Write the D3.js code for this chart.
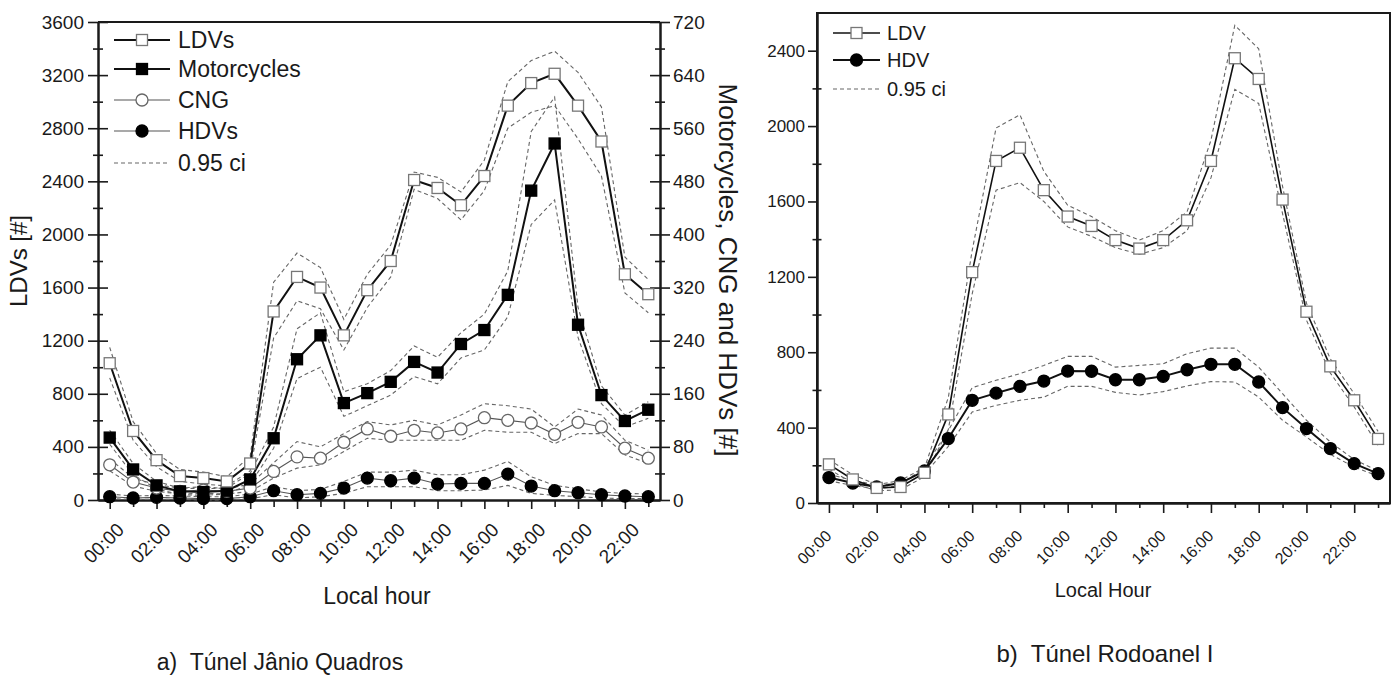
<!DOCTYPE html>
<html>
<head>
<meta charset="utf-8">
<script src="https://cdn.jsdelivr.net/npm/d3@7"></script>
<style>
  html, body { margin: 0; padding: 0; background: #fff; }
  svg { display: block; font-family: "Liberation Sans", Arial, sans-serif; }
</style>
</head>
<body>
<div id="chart"></div>
<script>
// Hourly vehicle counts in two São Paulo tunnels, with 0.95 confidence bands.

const hours = d3.range(24);
const hourLabels = ["00:00", "02:00", "04:00", "06:00", "08:00", "10:00",
                    "12:00", "14:00", "16:00", "18:00", "20:00", "22:00"];

// a) Túnel Jânio Quadros — LDVs on the left axis
const ticksA = [0, 400, 800, 1200, 1600, 2000, 2400, 2800, 3200, 3600];
const ldvA   = [1030, 520, 300, 180, 165, 140, 275, 1420, 1680, 1600, 1240, 1580, 1800, 2410, 2350, 2220, 2440, 2970, 3140, 3210, 2970, 2700, 1700, 1550];
const ldvAUp = [1150, 590, 350, 230, 210, 175, 330, 1640, 1860, 1750, 1360, 1700, 1920, 2470, 2430, 2320, 2560, 3150, 3310, 3380, 3220, 2960, 1830, 1660];
const ldvALo = [920, 450, 250, 140, 120, 105, 220, 1220, 1500, 1440, 1130, 1450, 1680, 2340, 2270, 2110, 2330, 2800, 2920, 2970, 2720, 2440, 1560, 1410];

// motorcycles, CNG and HDVs on the right axis
const ticksA2 = [0, 80, 160, 240, 320, 400, 480, 560, 640, 720];
const motoA   = [94, 46, 22, 13, 12, 14, 31, 93, 212, 248, 146, 161, 178, 208, 192, 235, 256, 309, 466, 537, 264, 158, 119, 136];
const motoAUp = [105, 55, 28, 18, 17, 18, 40, 110, 258, 282, 163, 175, 195, 232, 215, 252, 280, 345, 555, 607, 290, 172, 128, 148];
const motoALo = [84, 38, 17, 8, 7, 9, 24, 78, 183, 200, 126, 142, 158, 186, 175, 214, 226, 276, 415, 452, 245, 145, 110, 123];
const cngA    = [53, 27, 18, 13, 15, 13, 18, 43, 65, 63, 87, 107, 96, 105, 101, 107, 124, 120, 116, 99, 117, 110, 78, 63];
const cngAUp  = [62, 33, 23, 18, 20, 17, 24, 56, 88, 80, 100, 118, 113, 120, 113, 128, 145, 142, 137, 110, 137, 128, 90, 75];
const cngALo  = [44, 21, 13, 9, 10, 9, 13, 33, 48, 53, 73, 93, 90, 90, 90, 90, 105, 102, 102, 85, 100, 100, 68, 55];
const hdvA    = [5, 3, 4, 3, 2, 2, 5, 14, 8, 10, 18, 33, 29, 33, 24, 25, 25, 39, 21, 14, 11, 8, 6, 5];
const hdvAUp  = [9, 6, 7, 6, 5, 5, 9, 20, 14, 16, 28, 42, 42, 45, 38, 38, 45, 58, 35, 22, 17, 12, 10, 9];
const hdvALo  = [2, 1, 1, 1, 0, 0, 2, 8, 3, 5, 10, 20, 20, 20, 14, 14, 15, 22, 10, 7, 5, 3, 2, 2];

// b) Túnel Rodoanel I
const ticksB = [0, 400, 800, 1200, 1600, 2000, 2400];
const ldvB   = [205, 125, 80, 85, 160, 470, 1225, 1815, 1885, 1660, 1520, 1470, 1395, 1350, 1395, 1500, 1815, 2360, 2250, 1610, 1015, 725, 545, 340];
const ldvBUp = [230, 150, 98, 102, 185, 560, 1340, 1990, 2060, 1760, 1580, 1520, 1445, 1395, 1445, 1545, 1925, 2535, 2410, 1680, 1060, 765, 580, 380];
const ldvBLo = [180, 105, 65, 70, 140, 390, 1110, 1660, 1700, 1600, 1465, 1415, 1355, 1320, 1355, 1445, 1725, 2195, 2120, 1535, 970, 690, 510, 305];
const hdvB   = [135, 106, 85, 106, 170, 342, 545, 583, 619, 647, 700, 699, 654, 654, 672, 707, 736, 736, 642, 506, 395, 289, 209, 156];
const hdvBUp = [152, 120, 97, 120, 188, 385, 612, 651, 686, 730, 778, 778, 721, 730, 739, 792, 822, 822, 721, 580, 439, 324, 230, 170];
const hdvBLo = [118, 93, 74, 93, 152, 300, 483, 518, 545, 562, 619, 619, 587, 573, 591, 621, 644, 642, 562, 439, 350, 258, 191, 143];

const W = 1397, H = 677;
const ink = "#1a1a1a";
const svg = d3.select("#chart").append("svg").attr("width", W).attr("height", H);

const midTicks = t => t.slice(0, -1).map((v, i) => (v + t[i + 1]) / 2);

// y axis: major ticks (optionally crossing the spine) plus minor ticks half-way
function yAxis(scale, ticks, x, side, o) {
  const mk = side === "left" ? d3.axisLeft : d3.axisRight;
  const dir = side === "left" ? 1 : -1;
  const g = svg.append("g").attr("transform", `translate(${x},0)`);
  g.append("g").call(mk(scale).tickValues(midTicks(ticks)).tickFormat("").tickSize(o.minor).tickSizeOuter(0))
    .call(a => a.selectAll(".tick line").attr("x1", dir * o.minor));
  const major = g.append("g")
    .call(mk(scale).tickValues(ticks).tickFormat(d3.format("d")).tickSize(o.major).tickSizeOuter(0).tickPadding(o.pad));
  if (o.cross) major.selectAll(".tick line").attr("x1", dir * o.cross);
  major.selectAll(".tick text").attr("font-size", o.font).attr("fill", ink).attr("font-family", null);
  g.selectAll(".domain").attr("stroke", ink).attr("stroke-width", 2);
  g.selectAll(".tick line").attr("stroke", ink).attr("stroke-width", 1.6);
  return g;
}

function xAxis(scale, y, o) {
  const g = svg.append("g").attr("transform", `translate(0,${y})`);
  g.append("g").call(d3.axisBottom(scale).tickValues(hours.filter(h => h % 2)).tickFormat("").tickSize(o.minor).tickSizeOuter(0));
  g.append("g").call(d3.axisBottom(scale).tickValues(hours.filter(h => h % 2 === 0))
      .tickFormat(h => hourLabels[h / 2]).tickSize(o.major).tickSizeOuter(0))
    .selectAll(".tick text")
      .attr("font-size", o.font).attr("fill", ink).attr("font-family", null)
      .attr("text-anchor", "end").attr("x", null).attr("y", null).attr("dy", null)
      .attr("transform", `translate(${o.dx},${o.dy}) rotate(-45)`);
  g.selectAll(".domain").attr("stroke", ink).attr("stroke-width", 2);
  g.selectAll(".tick line").attr("stroke", ink).attr("stroke-width", 1.6);
}

function band(x, y, vals) {
  svg.append("path").datum(vals)
    .attr("d", d3.line().x((d, i) => x(hours[i])).y(d => y(d)))
    .attr("fill", "none").attr("stroke", "#666").attr("stroke-width", 1.1)
    .attr("stroke-dasharray", "4 3");
}

function marker(g, shape, cx, cy, size, filled, stroke) {
  if (shape === "square") {
    g.append("rect").attr("x", cx - size / 2).attr("y", cy - size / 2)
      .attr("width", size).attr("height", size)
      .attr("fill", filled ? "#000" : "#fff").attr("stroke", filled ? "#000" : stroke).attr("stroke-width", 1.3);
  } else {
    g.append("circle").attr("cx", cx).attr("cy", cy).attr("r", size / 2)
      .attr("fill", filled ? "#000" : "#fff").attr("stroke", filled ? "#000" : stroke).attr("stroke-width", 1.3);
  }
}

function series(x, y, vals, s) {
  svg.append("path").datum(vals)
    .attr("d", d3.line().x((d, i) => x(hours[i])).y(d => y(d)))
    .attr("fill", "none").attr("stroke", s.line).attr("stroke-width", s.lw);
  const g = svg.append("g");
  vals.forEach((v, i) => marker(g, s.shape, x(hours[i]), y(v), s.size, s.filled, s.mstroke));
}

function legend(items, x0, x1, tx, rows, font) {
  const g = svg.append("g");
  items.forEach((s, i) => {
    const y = rows[i];
    g.append("line").attr("x1", x0).attr("x2", x1).attr("y1", y).attr("y2", y)
      .attr("stroke", s.dash ? "#666" : s.line).attr("stroke-width", s.dash ? 1.1 : s.lw)
      .attr("stroke-dasharray", s.dash ? "4 3" : null);
    if (!s.dash) marker(g, s.shape, (x0 + x1) / 2, y, s.size, s.filled, s.mstroke);
    g.append("text").attr("x", tx).attr("y", y).attr("dy", "0.35em")
      .attr("font-size", font).attr("fill", ink).text(s.name);
  });
}

// ---------- a) Túnel Jânio Quadros ----------
const xA  = d3.scaleLinear().domain([-0.5, 23.5]).range([98, 660]);
const yA  = d3.scaleLinear().domain([0, 3600]).range([500, 22]);
const yA2 = d3.scaleLinear().domain([0, 720]).range([500, 22]);

svg.append("line").attr("x1", xA.range()[0]).attr("x2", xA.range()[1])
  .attr("y1", yA.range()[1]).attr("y2", yA.range()[1]).attr("stroke", ink).attr("stroke-width", 2);
yAxis(yA, ticksA, 98, "left", { major: 10, cross: 10, minor: 5, pad: 4, font: 19 });
yAxis(yA2, ticksA2, 660, "right", { major: 10, cross: 10, minor: 5, pad: 3, font: 19 });
xAxis(xA, 500, { major: 9, minor: 7, font: 19, dx: 15, dy: 31 });

const sLdvA  = { name: "LDVs", shape: "square", size: 11, filled: false, mstroke: "#777", line: "#111", lw: 2 };
const sMotoA = { name: "Motorcycles", shape: "square", size: 11, filled: true, line: "#111", lw: 2 };
const sCngA  = { name: "CNG", shape: "circle", size: 12, filled: false, mstroke: "#666", line: "#555", lw: 1.1 };
const sHdvA  = { name: "HDVs", shape: "circle", size: 12, filled: true, line: "#555", lw: 1.1 };

[ldvAUp, ldvALo].forEach(v => band(xA, yA, v));
[motoAUp, motoALo, cngAUp, cngALo, hdvAUp, hdvALo].forEach(v => band(xA, yA2, v));
series(xA, yA2, hdvA, sHdvA);
series(xA, yA2, cngA, sCngA);
series(xA, yA2, motoA, sMotoA);
series(xA, yA, ldvA, sLdvA);

legend([sLdvA, sMotoA, sCngA, sHdvA, { name: "0.95 ci", dash: true }], 114, 170, 178, [40, 69, 100, 131, 163], 23);

svg.append("text").attr("transform", "translate(27,261) rotate(-90)")
  .attr("text-anchor", "middle").attr("font-size", 24).attr("fill", ink).text("LDVs [#]");
svg.append("text").attr("transform", "translate(719,270) rotate(90)")
  .attr("text-anchor", "middle").attr("font-size", 26).attr("fill", ink).text("Motorcycles, CNG and HDVs [#]");
svg.append("text").attr("x", 377).attr("y", 604).attr("text-anchor", "middle")
  .attr("font-size", 23).attr("fill", ink).text("Local hour");
svg.append("text").attr("x", 280).attr("y", 670).attr("text-anchor", "middle")
  .attr("font-size", 23).attr("fill", ink).attr("xml:space", "preserve").text("a)  Túnel Jânio Quadros");

// ---------- b) Túnel Rodoanel I ----------
const xB = d3.scaleLinear().domain([-0.5, 23.5]).range([817, 1390]);
const yB = d3.scaleLinear().domain([0, 2600]).range([503, 13]);

svg.append("rect").attr("x", 817).attr("y", 13).attr("width", 1390 - 817).attr("height", 503 - 13)
  .attr("fill", "none").attr("stroke", ink).attr("stroke-width", 2);
yAxis(yB, ticksB, 817, "left", { major: 9, minor: 4.5, pad: 3, font: 17 });
xAxis(xB, 503, { major: 10, minor: 5, font: 16, dx: 3, dy: 34 });

const sLdvB = { name: "LDV", shape: "square", size: 11, filled: false, mstroke: "#777", line: "#111", lw: 1.6 };
const sHdvB = { name: "HDV", shape: "circle", size: 12, filled: true, line: "#111", lw: 2 };

[ldvBUp, ldvBLo, hdvBUp, hdvBLo].forEach(v => band(xB, yB, v));
series(xB, yB, hdvB, sHdvB);
series(xB, yB, ldvB, sLdvB);

legend([sLdvB, sHdvB, { name: "0.95 ci", dash: true }], 833, 880, 887, [33, 60, 89], 20);

svg.append("text").attr("x", 1103).attr("y", 597).attr("text-anchor", "middle")
  .attr("font-size", 20).attr("fill", ink).text("Local Hour");
svg.append("text").attr("x", 1105).attr("y", 662).attr("text-anchor", "middle")
  .attr("font-size", 24).attr("fill", ink).attr("xml:space", "preserve").text("b)  Túnel Rodoanel I");
</script>
</body>
</html>
